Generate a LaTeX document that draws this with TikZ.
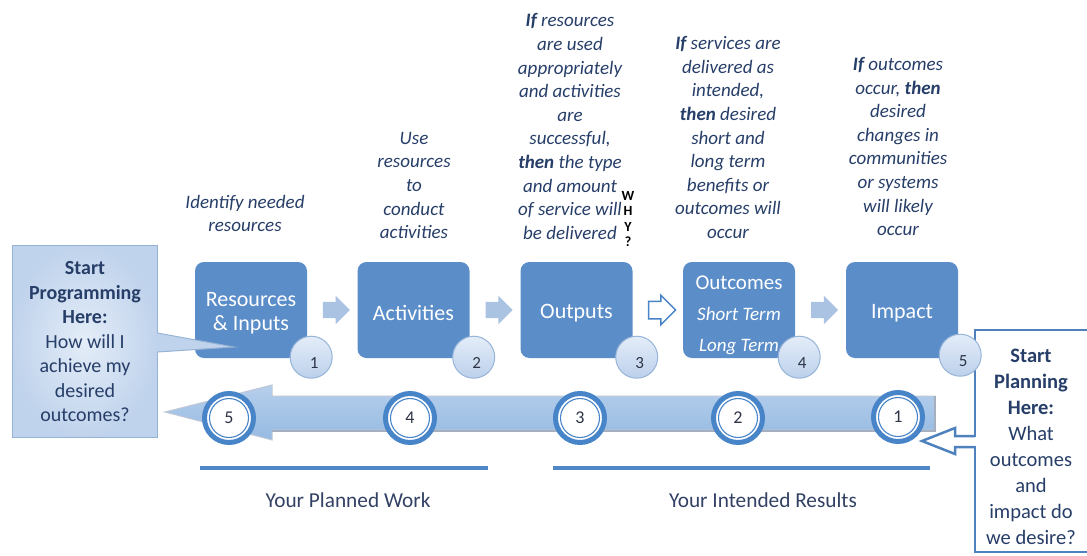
\documentclass[tikz,border=0pt]{standalone}
\usepackage{fontspec}
\setmainfont{Carlito}
\usetikzlibrary{shapes.arrows,calc}
\definecolor{boxblue}{RGB}{91,141,201}
\definecolor{ringblue}{RGB}{72,132,200}
\definecolor{txtblue}{RGB}{38,62,104}
\definecolor{arrowtop}{RGB}{182,207,236}
\definecolor{arrowbot}{RGB}{150,186,226}
\definecolor{arrowedge}{RGB}{190,200,214}
\definecolor{arrowshadow}{RGB}{165,175,190}
\definecolor{chevfill}{RGB}{170,195,226}
\definecolor{smalltop}{RGB}{228,237,249}
\definecolor{smallbot}{RGB}{188,208,235}
\definecolor{smalldraw}{RGB}{150,180,216}
\definecolor{calloutin}{RGB}{228,237,248}
\definecolor{calloutout}{RGB}{192,211,236}
\definecolor{calloutdraw}{RGB}{150,178,212}
\definecolor{framedraw}{RGB}{79,129,189}
\definecolor{digitc}{RGB}{45,52,70}
\definecolor{linec}{RGB}{80,135,200}
\definecolor{labelc}{RGB}{50,65,100}
\begin{document}
\begin{tikzpicture}[x=1pt,y=-1pt,
  stagebox/.style={rounded corners=9pt, fill=boxblue, minimum width=112pt, minimum height=96pt, inner sep=0pt},
  stagetext/.style={text=white, align=center, inner sep=0pt, font=\fontsize{22}{25}\selectfont},
  badge/.style={circle, minimum size=42pt, inner sep=0pt, top color=smalltop, bottom color=smallbot, draw=smalldraw, line width=1pt},
  badgenum/.style={text=digitc, inner sep=0pt, font=\fontsize{17}{17}\selectfont},
  chevron/.style={single arrow, single arrow head extend=6pt, minimum height=27pt, inner xsep=0pt, inner ysep=8pt, fill=chevfill, draw=none},
  ring/.style={circle, minimum size=49pt, inner sep=0pt, draw=ringblue, line width=5pt, fill=white, font=\fontsize{18}{18}\selectfont, text=digitc,
    path picture={\draw[ringblue, line width=1.1pt] (path picture bounding box.center) circle (19.5pt);}},
  note/.style={align=center, text=txtblue, font=\fontsize{19}{23.6}\selectfont\itshape},
  sidetext/.style={align=center, text=txtblue, inner sep=0pt},
  bottomlabel/.style={text=labelc, font=\fontsize{21.3}{24}\selectfont},
  underline/.style={draw=linec, line width=4pt}
]
\clip (0,0) rectangle (1087,555);
\useasboundingbox (0,0) rectangle (1087,555);

% stage boxes
\node[stagebox] (s1) at (251,310) {};
\node[stagebox] (s2) at (413.5,310) {};
\node[stagebox] (s3) at (576.5,310) {};
\node[stagebox] (s4) at (739,310) {};
\node[stagebox] (s5) at (902,310) {};
\node[stagetext] (t1) at ($(s1.center)+(0,3)$) {Resources\\[-0.5pt]\& Inputs};
\node[stagetext] (t2) at ($(s2.center)+(0,3)$) {Activities};
\node[stagetext] (t3) at ($(s3.center)+(0,3)$) {Outputs};
\node[stagetext, font=\fontsize{21}{31}\selectfont] (t4) at ($(s4.center)+(0,5)$) {Outcomes\\{\fontsize{19}{31}\selectfont\itshape Short Term}\\{\fontsize{19}{31}\selectfont\itshape Long Term}};
\node[stagetext] (t5) at ($(s5.center)+(0,3)$) {Impact};

% chevrons
\node[chevron] (c12) at ($(s1.east)!0.5!(s2.west)$) {};
\node[chevron] (c23) at ($(s2.east)!0.5!(s3.west)$) {};
\node[chevron, fill=white, draw=ringblue, line width=1.5pt] (c34) at ($(s3.east)!0.5!(s4.west)$) {};
\node[chevron] (c45) at ($(s4.east)!0.5!(s5.west)$) {};

% right frame
\node[draw=framedraw, line width=2.5pt, fill=white, minimum width=115pt, minimum height=222pt, inner sep=0pt] (plan) at (1032.5,441) {};
\node[sidetext, font=\fontsize{20.5}{26}\selectfont] (plantext) at (1031,447) {\textbf{Start}\\\textbf{Planning}\\\textbf{Here:}\\What\\outcomes\\and\\impact do\\we desire?};

% badges
\node[badge] (b1) at ($(s1.south east)+(4,-1)$) {};
\node[badge] (b2) at ($(s2.south east)+(4,-1)$) {};
\node[badge] (b3) at ($(s3.south east)+(4,-1)$) {};
\node[badge] (b4) at ($(s4.south east)+(4,-1)$) {};
\node[badge] (b5) at ($(s5.south east)+(2,-3)$) {};
\node[badgenum] (d1) at ($(b1.center)+(3,6)$) {1};
\node[badgenum] (d2) at ($(b2.center)+(3,6)$) {2};
\node[badgenum] (d3) at ($(b3.center)+(3,6)$) {3};
\node[badgenum] (d4) at ($(b4.center)+(3,6)$) {4};
\node[badgenum] (d5) at ($(b5.center)+(3,6)$) {5};

% left callout
\node[shade, inner color=calloutin, outer color=calloutout, draw=calloutdraw, line width=1pt, minimum width=145pt, minimum height=192pt, inner sep=0pt] (prog) at (84.5,341) {};
\node[sidetext, font=\fontsize{20}{24.5}\selectfont] (progtext) at (85,342) {\textbf{Start}\\\textbf{Programming}\\\textbf{Here:}\\How will I\\achieve my\\desired\\outcomes?};
\coordinate (ptip) at (234,347);
\fill[calloutout] ($(prog.east)+(-1,-8)$) -- (ptip) -- ($(prog.east)+(-1,11)$) -- cycle;
\draw[calloutdraw, line width=1pt] ($(prog.east)+(0,-8)$) -- (ptip) -- ($(prog.east)+(0,11)$);

% big return arrow
\shade[top color=arrowtop, bottom color=arrowbot, draw=arrowedge, line width=1pt]
  (935,396) -- (272,396) -- (272,385) -- (165,412) -- (272,440) -- (272,430) -- (935,430) -- cycle;
\draw[arrowshadow, line width=1.5pt] (272,431) -- (935,431) -- (935,396);

% rings
\node[ring] (r5) at (229,418) {\raisebox{-3pt}{5}};
\node[ring] (r4) at (410,418) {\raisebox{-3pt}{4}};
\node[ring] (r3) at (580,418) {\raisebox{-3pt}{3}};
\node[ring] (r2) at (738,418) {\raisebox{-3pt}{2}};
\node[ring] (r1) at (898,417) {\raisebox{-3pt}{1}};

% right callout pointer
\fill[white] (973,437) rectangle (977,446);
\draw[framedraw, line width=2.5pt, line join=miter]
  (975,436) -- (955,436) -- (955,428) -- (922,441) -- (955,454) -- (955,447) -- (975,447);

% notes above
\node[note] (n1) at (245,213.5) {Identify needed\\resources};
\node[note] (n2) at (414,185.5) {Use\\resources\\to\\conduct\\activities};
\node[note] (n3) at (570,126.5) {\textbf{If} resources\\are used\\appropriately\\and activities\\are\\successful,\\\textbf{then} the type\\and amount\\of service will\\be delivered};
\node[note] (n4) at (728,137.5) {\textbf{If} services are\\delivered as\\intended,\\\textbf{then} desired\\short and\\long term\\benefits or\\outcomes will\\occur};
\node[note] (n5) at (898,146.5) {\textbf{If} outcomes\\occur, \textbf{then}\\desired\\changes in\\communities\\or systems\\will likely\\occur};
\node[align=center, inner sep=0pt, font=\fontsize{14}{15.5}\selectfont\bfseries] (why) at (628,219) {W\\H\\Y\\?};

% bottom labels
\coordinate (u1a) at (200,468);
\coordinate (u1b) at (488,468);
\coordinate (u2a) at (553,468);
\coordinate (u2b) at (930,468);
\draw[underline] (u1a) -- (u1b);
\draw[underline] (u2a) -- (u2b);
\node[bottomlabel] (lw) at (348,500) {Your Planned Work};
\node[bottomlabel] (lr) at (763,500) {Your Intended Results};
\end{tikzpicture}
\end{document}
